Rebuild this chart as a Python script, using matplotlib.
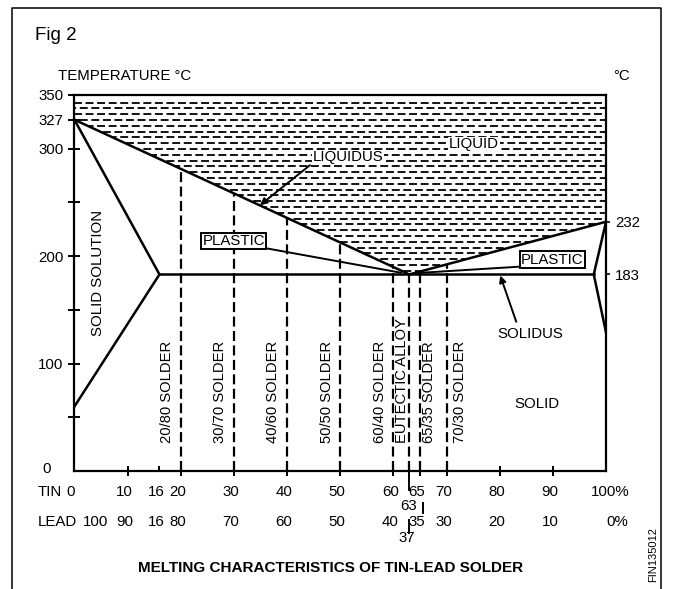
import numpy as np
import matplotlib.pyplot as plt
from matplotlib.patches import Polygon
from matplotlib.lines import Line2D

plt.rcParams['font.family'] = ['Liberation Sans', 'DejaVu Sans']

# phase diagram lines (tin %, temperature degC)
liquidus_tin = [0, 63, 100]
liquidus_temp = [327, 183, 232]
solidus_tin = [16, 97.7]
solidus_temp = [183, 183]
left_solvus_tin = [0, 16, 0]
left_solvus_temp = [327, 183, 60]
right_solvus_tin = [100, 97.7, 100]
right_solvus_temp = [232, 183, 129]

# solder alloys
alloy_tin = [20, 30, 40, 50, 60, 63, 65, 70]
alloy_names = ['20/80 SOLDER', '30/70 SOLDER', '40/60 SOLDER', '50/50 SOLDER',
               '60/40 SOLDER', 'EUTECTIC ALLOY', '65/35 SOLDER', '70/30 SOLDER']
alloy_dx = [-14, -14, -14, -13, -13, -7, 9, 13]  # label offset, pixels

# axis labels
tin_ticks = [0, 10, 16, 20, 30, 40, 50, 60, 65, 70, 80, 90, 100]
tin_labels = ['0', '10', '16', '20', '30', '40', '50', '60', '65', '70', '80', '90', '100%']
lead_labels = ['100', '90', '16', '80', '70', '60', '50', '40', '35', '30', '20', '10', '0%']
eutectic_tin, eutectic_lead = 63, 37
y_ticks = [50, 100, 150, 200, 250, 300, 327, 350]
y_labels = ['', '100', '', '200', '', '300', '327', '350']
right_ticks = [183, 232]

fs = 10.8
W, H = 675, 589
fig = plt.figure(figsize=(W / 100, H / 100), dpi=100)
ax = fig.add_axes([74.4 / W, (H - 471) / H, (606 - 74.4) / W, (471 - 95) / H])
ax.set_xlim(0, 100)
ax.set_ylim(0, 350)
ax_h = (471 - 95)

# liquid region with dashed hatching
liquid = Polygon(list(zip([0] + liquidus_tin + [100], [350] + liquidus_temp + [350])),
                 closed=True, facecolor='white', edgecolor='none')
ax.add_patch(liquid)
for i, t in enumerate(np.arange(343, 180, -5.4)):
    ln, = ax.plot([0, 100], [t, t], color='black', lw=1.3,
                  ls=(0 if i % 2 == 0 else 3.2, (4.4, 2)))
    ln.set_clip_path(liquid)

lw = 1.8
ax.plot(liquidus_tin, liquidus_temp, color='black', lw=lw)
ax.plot(solidus_tin, solidus_temp, color='black', lw=lw)
ax.plot(left_solvus_tin, left_solvus_temp, color='black', lw=lw)
ax.plot(right_solvus_tin, right_solvus_temp, color='black', lw=lw)

# solder composition lines
for t, name, dx in zip(alloy_tin, alloy_names, alloy_dx):
    top = np.interp(t, liquidus_tin, liquidus_temp)
    ax.plot([t, t], [0, top], color='black', lw=1.6, ls=(0, (4.5, 2)))
    ax.annotate(name, xy=(t, 26), xytext=(dx, 0), textcoords='offset pixels',
                rotation=90, ha='center', va='bottom', fontsize=10.6)

# region labels
ax.text(4.35, 184, 'SOLID SOLUTION', rotation=90, ha='center', va='center', fontsize=fs)
ax.text(75.2, 304, 'LIQUID', ha='center', va='center', fontsize=fs,
        bbox=dict(boxstyle='square,pad=0.05', fc='white', ec='none'))
ax.annotate('LIQUIDUS', xy=(34.9, 247.4), xytext=(51.5, 292), ha='center', va='center',
            fontsize=fs, bbox=dict(boxstyle='square,pad=0.05', fc='white', ec='none'),
            arrowprops=dict(arrowstyle='-|>', color='black', lw=1.4, mutation_scale=10,
                            relpos=(0, 0.1), shrinkA=2, shrinkB=0))
ax.annotate('SOLIDUS', xy=(80.1, 182), xytext=(85.7, 127.4), ha='center', va='center',
            fontsize=fs,
            arrowprops=dict(arrowstyle='-|>', color='black', lw=1.4, mutation_scale=10,
                            relpos=(0.32, 1), shrinkA=2, shrinkB=0))
ax.text(87, 62.3, 'SOLID', ha='center', va='center', fontsize=fs)
box = dict(boxstyle='square,pad=0.08', fc='white', ec='black', lw=1.4)
ax.annotate('PLASTIC', xy=(61.5, 184.5), xytext=(30, 214), ha='center', va='center',
            fontsize=fs, bbox=box,
            arrowprops=dict(arrowstyle='-', color='black', lw=1.4, relpos=(1, 0),
                            shrinkA=0, shrinkB=0))
ax.annotate('PLASTIC', xy=(64.5, 184.3), xytext=(89.9, 196.8), ha='center', va='center',
            fontsize=fs, bbox=box,
            arrowprops=dict(arrowstyle='-', color='black', lw=1.4, relpos=(0, 0),
                            shrinkA=0, shrinkB=0))

# axes styling
for s in ax.spines.values():
    s.set_linewidth(1.6)
ax.set_yticks(y_ticks, labels=y_labels)
ax.tick_params(axis='y', direction='inout', length=8.6, width=1.4, labelsize=fs, pad=3.6)
ax.annotate('0', xy=(0, 0), xytext=(-28, 2), textcoords='offset pixels',
            ha='center', va='center', fontsize=fs)
ax.set_xticks([10, 20, 30, 40, 50, 60, 63, 65, 70, 80, 90])
ax.set_xticks([16], minor=True)
ax.tick_params(axis='x', which='major', direction='inout', length=7.2, width=1.4,
               labelbottom=False)
ax.tick_params(axis='x', which='minor', direction='in', length=3.6, width=1.4,
               labelbottom=False)

ax2 = ax.twinx()
ax2.set_ylim(0, 350)
ax2.set_yticks(right_ticks)
ax2.tick_params(axis='y', direction='out', length=3, width=1.2, labelsize=fs, pad=3.6)
for s in ax2.spines.values():
    s.set_visible(False)

# composition rows under the axis
xt = ax.get_xaxis_transform()
for i, (t, a, b) in enumerate(zip(tin_ticks, tin_labels, lead_labels)):
    ha, dx_a, dx_b = 'center', -3, -3
    if i == 0:
        dx_a, dx_b = -4, 21
    if i == len(tin_ticks) - 1:
        ha, dx_a, dx_b = 'right', 24, 22
    ax.annotate(a, xy=(t, 0), xycoords=xt, xytext=(dx_a, -21.5),
                textcoords='offset pixels', ha=ha, va='center', fontsize=fs)
    ax.annotate(b, xy=(t, 0), xycoords=xt, xytext=(dx_b, -51.5),
                textcoords='offset pixels', ha=ha, va='center', fontsize=fs)
ax.annotate('TIN', xy=(0, 0), xycoords=xt, xytext=(38 - 74.4, -21.5),
            textcoords='offset pixels', ha='left', va='center', fontsize=fs)
ax.annotate('LEAD', xy=(0, 0), xycoords=xt, xytext=(38 - 74.4, -51.5),
            textcoords='offset pixels', ha='left', va='center', fontsize=fs)
ax.annotate(str(eutectic_tin), xy=(eutectic_tin, 0), xycoords=xt, xytext=(-1, -35.5),
            textcoords='offset pixels', ha='center', va='center', fontsize=fs)
ax.annotate(str(eutectic_lead), xy=(eutectic_tin, 0), xycoords=xt, xytext=(-3, -67),
            textcoords='offset pixels', ha='center', va='center', fontsize=fs)
for x0, p0, p1 in [(eutectic_tin, 0, 19), (65.6, 32, 42), (eutectic_tin, 49, 62)]:
    ax.plot([x0, x0], [-p0 / ax_h, -p1 / ax_h], transform=xt, color='black',
            lw=1.4, clip_on=False)

# figure texts and frame
fig.text(35 / W, 1 - 35 / H, 'Fig 2', ha='left', va='center', fontsize=13.5)
fig.text(58 / W, 1 - 76.5 / H, 'TEMPERATURE °C', ha='left', va='center', fontsize=fs)
fig.text(613 / W, 1 - 76.5 / H, '°C', ha='left', va='center', fontsize=fs)
fig.text(331 / W, 1 - 567.5 / H, 'MELTING CHARACTERISTICS OF TIN-LEAD SOLDER',
         ha='center', va='center', fontsize=11, fontweight='bold')
fig.text(653 / W, 1 - 555 / H, 'FIN135012', rotation=90, ha='center', va='center',
         fontsize=8)
fig.add_artist(Line2D([12 / W, 12 / W, 661 / W, 661 / W], [0, 1 - 8 / H, 1 - 8 / H, 0],
                      color='black', lw=1.1, transform=fig.transFigure))

fig.savefig('out.png', dpi=100)
